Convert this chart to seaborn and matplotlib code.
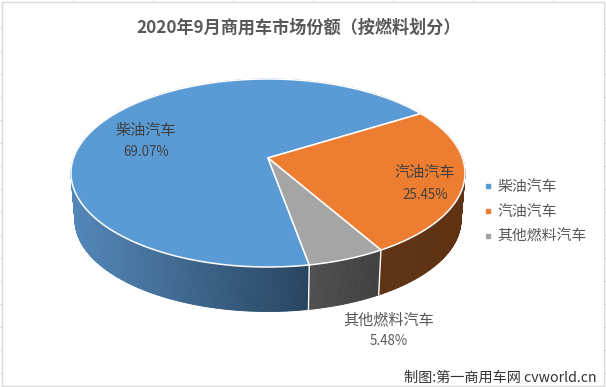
import numpy as np
import seaborn as sns
import matplotlib
matplotlib.use("Agg")
import matplotlib.pyplot as plt
from matplotlib.lines import Line2D
from matplotlib.patches import Rectangle

title = "2020年9月商用车市场份额（按燃料划分）"
fuel_types = ["柴油汽车", "汽油汽车", "其他燃料汽车"]
shares = [69.07, 25.45, 5.48]
top_colors = ["#5B9BD5", "#ED7D31", "#A5A5A5"]
side_left = ["#5387B9", "#5F3214", "#505050"]
side_right = ["#27445F", "#5F3214", "#404040"]
credit = "制图:第一商用车网 cvworld.cn"

sns.set_theme(style="white")
plt.rcParams["font.family"] = ["Noto Sans CJK SC", "DejaVu Sans"]

W, H = 606, 387
first_angle = 79.7  # where the first slice starts, clockwise from 3 o'clock
persp = 0.16


def project(theta, cx, cy, rx, ry):
    # circle -> ellipse with the pie centre pushed back (perspective)
    t = np.radians(theta)
    x, y = np.cos(t), np.sin(t)
    den = 1 + persp * y
    return cx + rx * x * np.sqrt(1 - persp ** 2) / den, cy - ry * (y + persp) / den


def top(theta):
    return project(theta, 268, 173, 197, 94)


def bottom(theta):
    return project(theta, 268, 220, 193, 91.5)


fig = plt.figure(figsize=(W / 100, H / 100), dpi=100, facecolor="white")
ax = fig.add_axes([0, 0, 1, 1])
ax.set_xlim(0, W)
ax.set_ylim(H, 0)
ax.axis("off")

# slice limits, going clockwise
spans = np.array(shares) / sum(shares) * 360
starts = -first_angle - np.concatenate([[0], np.cumsum(spans)[:-1]])
ends = starts - spans

# side wall, strip by strip so the shading can follow x
for i in range(len(shares)):
    th = np.linspace(starts[i], ends[i], int(spans[i] * 2) + 2)
    xt, yt = top(th)
    xb, yb = bottom(th)
    front = np.sin(np.radians(th)) < 0.1
    xmin, xmax = xb[front].min(), xb[front].max()
    pal = sns.blend_palette([side_left[i], side_right[i]], 200)
    for j in range(len(th) - 1):
        f = np.clip((xb[j] - xmin) / (xmax - xmin), 0, 1)
        ax.fill([xt[j], xt[j + 1], xb[j + 1], xb[j]], [yt[j], yt[j + 1], yb[j + 1], yb[j]],
                color=pal[int(f * 199)], lw=0.6, zorder=1)

# white seams on the wall
for a in [starts[0], starts[2]]:
    xa, ya = top(a)
    xc, yc = bottom(a)
    ax.plot([xa, xc], [ya, yc], color="white", lw=1.0, zorder=2)

# top face
apex = (268, 173 - 94 * persp)
for i in range(len(shares)):
    th = np.linspace(starts[i], ends[i], 300)
    xt, yt = top(th)
    ax.fill(np.r_[apex[0], xt], np.r_[apex[1], yt], facecolor=top_colors[i],
            edgecolor="white", lw=1.1, joinstyle="round", zorder=3)

ax.text(298.5, 28, title, ha="center", va="center", fontsize=12.3, fontweight="bold", color="#595959")

# data labels
label_pos = [(146, 131, 152), (425, 173, 195), (389, 320, 341)]
label_cols = ["#404040", "#404040", "#595959"]
for name, val, (lx, ly1, ly2), col in zip(fuel_types, shares, label_pos, label_cols):
    ax.text(lx, ly1, name, ha="center", va="center", fontsize=10.9, color=col, zorder=5)
    ax.text(lx, ly2, f"{val:.2f}%", ha="center", va="center", fontsize=9.6, color=col, zorder=5)

handles = [Line2D([], [], ls="", marker="s", ms=3.4, color=c) for c in top_colors]
ax.legend(handles, fuel_types, loc="center left", bbox_to_anchor=(484 / W, 1 - 212 / H),
          frameon=False, fontsize=10.7, labelcolor="#595959", handlelength=0.6, handletextpad=0.3,
          labelspacing=0.72, borderpad=0, borderaxespad=0)

ax.text(597, 378, credit, ha="right", va="center", fontsize=10.2, color="#333333", zorder=5)

# chart frame and the sheet gridlines peeking out
ax.add_patch(Rectangle((1.5, 1.5), W - 3.5, H - 3, fill=False, ec="#D9D9D9", lw=1, zorder=0))
ax.vlines(np.arange(73, W, 80), 0, 1.5, color="#D9D9D9", lw=1)
ax.vlines(np.arange(72, W, 80), H - 1.5, H, color="#D9D9D9", lw=1)
ax.hlines(np.arange(28, H, 23), 0, 1.5, color="#D9D9D9", lw=1)
ax.hlines(np.arange(28, H, 23), W - 2, W, color="#D9D9D9", lw=1)

fig.savefig("out.png", dpi=100)
